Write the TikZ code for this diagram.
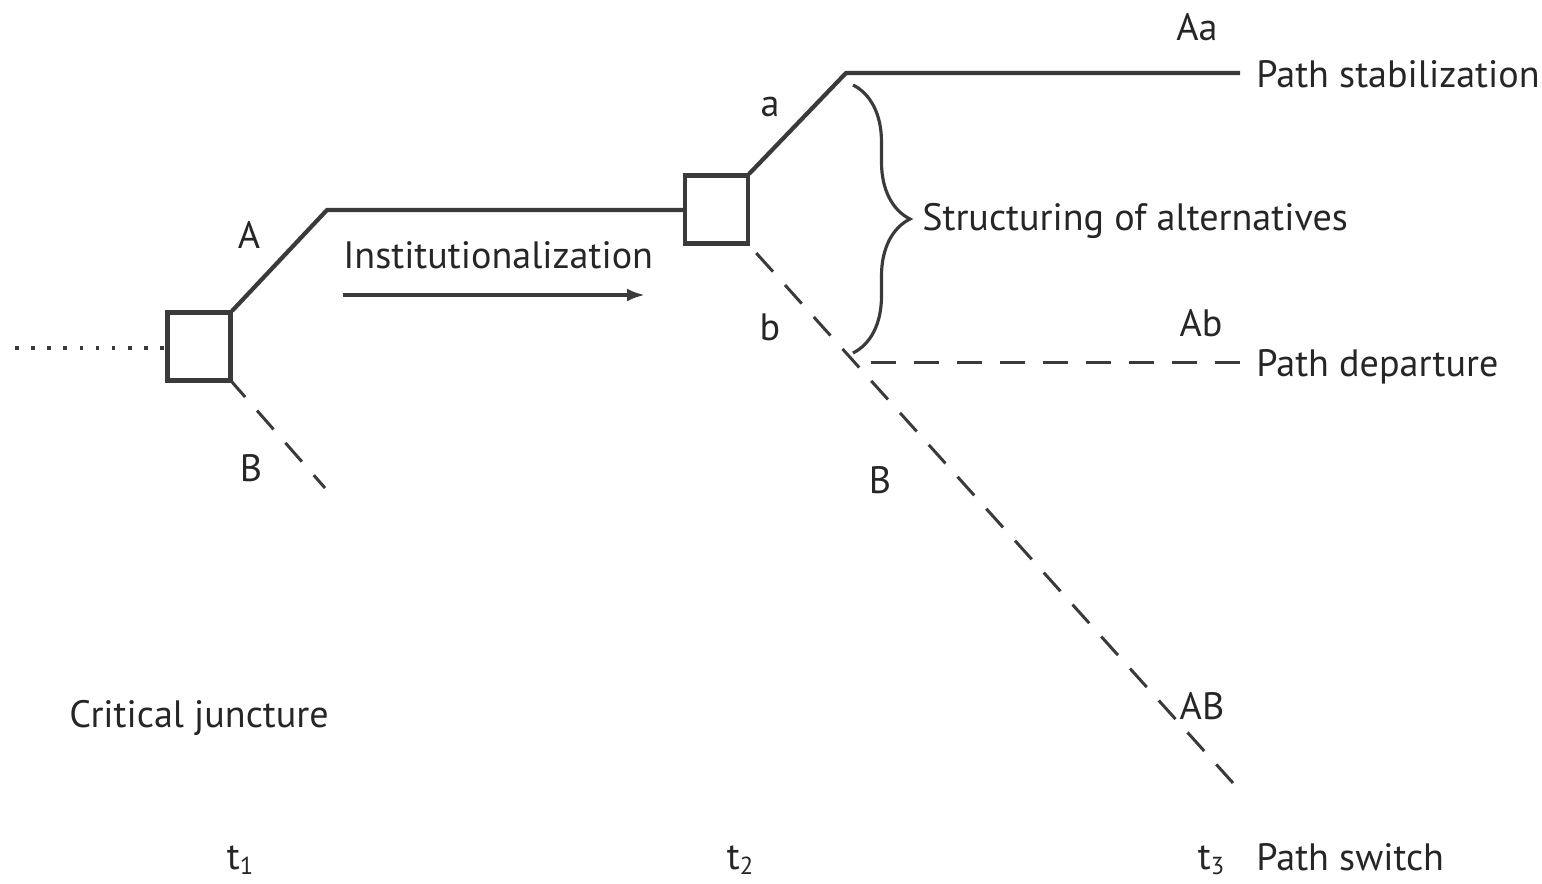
\documentclass[tikz,border=0pt]{standalone}
\usepackage{fontspec}
\setmainfont{PT Sans}
\usetikzlibrary{decorations.pathreplacing,arrows.meta}
\definecolor{ln}{HTML}{3A3A3A}
\definecolor{tx}{HTML}{262626}
\tikzset{
  x={(0.02cm,0)}, y={(0,-0.02cm)},
  every node/.style={font=\fontsize{21.7}{26}\selectfont, text=tx, inner sep=0pt},
  boxnode/.style={draw=ln, line width=2.6pt, fill=white, minimum width=1.26cm, minimum height=1.36cm},
  solidline/.style={draw=ln, line width=2.4pt},
  dashline/.style={draw=ln, line width=1.7pt, dash pattern=on 0.5cm off 0.36cm},
  dotline/.style={draw=ln, line width=2pt, dash pattern=on 2pt off 7.2pt},
  lbl/.style={anchor=base},
  wlbl/.style={anchor=base west},
}
\newcommand{\tsub}[1]{t\raisebox{-0.3ex}{\fontsize{14}{16}\selectfont #1}}
\begin{document}
\begin{tikzpicture}
\useasboundingbox (0,0) rectangle (1542,883);
% coordinates
\coordinate (dotstart) at (15,348);
\coordinate (kA) at (327,210);
\coordinate (endB1) at (325,488);
\coordinate (ka) at (846,73);
\coordinate (endAa) at (1240,73);
\coordinate (endAB) at (1233,783);
\coordinate (startAb) at (855,362);
\coordinate (endAb) at (1240,362);
\coordinate (arrS) at (343,295);
\coordinate (arrE) at (645,295);
\coordinate (brTop) at (853,85);
\coordinate (brBot) at (853,353);

% lines
\draw[dotline] (dotstart) -- (166,348);
\draw[solidline] (232,311) -- (kA) -- (684,210);
\draw[dashline, dash phase=0.1cm] (232,382) -- (endB1);
\draw[solidline] (749,174) -- (ka) -- (endAa);
\draw[dashline] (endAB) -- (749,245);
\draw[dashline] (endAb) -- (startAb);
\draw[draw=ln, line width=2.2pt, -{Latex[length=0.36cm,width=0.26cm]}] (arrS) -- (arrE);
\draw[draw=ln, line width=1.8pt, decorate, decoration={brace, amplitude=1.14cm, aspect=0.5}] (brTop) -- (brBot);

% boxes
\node[boxnode] (b1) at (199,346.5) {};
\node[boxnode] (b2) at (716.5,209.5) {};

% labels
\node[lbl] (lA) at (249,248) {A};
\node[lbl] (lB1) at (251,481) {B};
\node[lbl] (la) at (770,116) {a};
\node[lbl] (lb) at (770,340) {b};
\node[lbl] (lB2) at (880,493) {B};
\node[lbl] (lAa) at (1197,40) {Aa};
\node[lbl] (lAb) at (1201,336) {Ab};
\node[lbl] (lAB) at (1202,719) {AB};
\node[wlbl] (inst) at (343,268) {Institutionalization};
\node[wlbl] (struct) at (922,230) {Structuring of alternatives};
\node[wlbl] (pstab) at (1256,87) {Path stabilization};
\node[wlbl] (pdep) at (1256,376) {Path departure};
\node[wlbl] (psw) at (1256,870) {Path switch};
\node[wlbl] (crit) at (69,727) {Critical juncture};
\node[lbl] (t1) at (240,869) {\tsub{1}};
\node[lbl] (t2) at (740,869) {\tsub{2}};
\node[lbl] (t3) at (1211,869) {\tsub{3}};
\end{tikzpicture}
\end{document}
